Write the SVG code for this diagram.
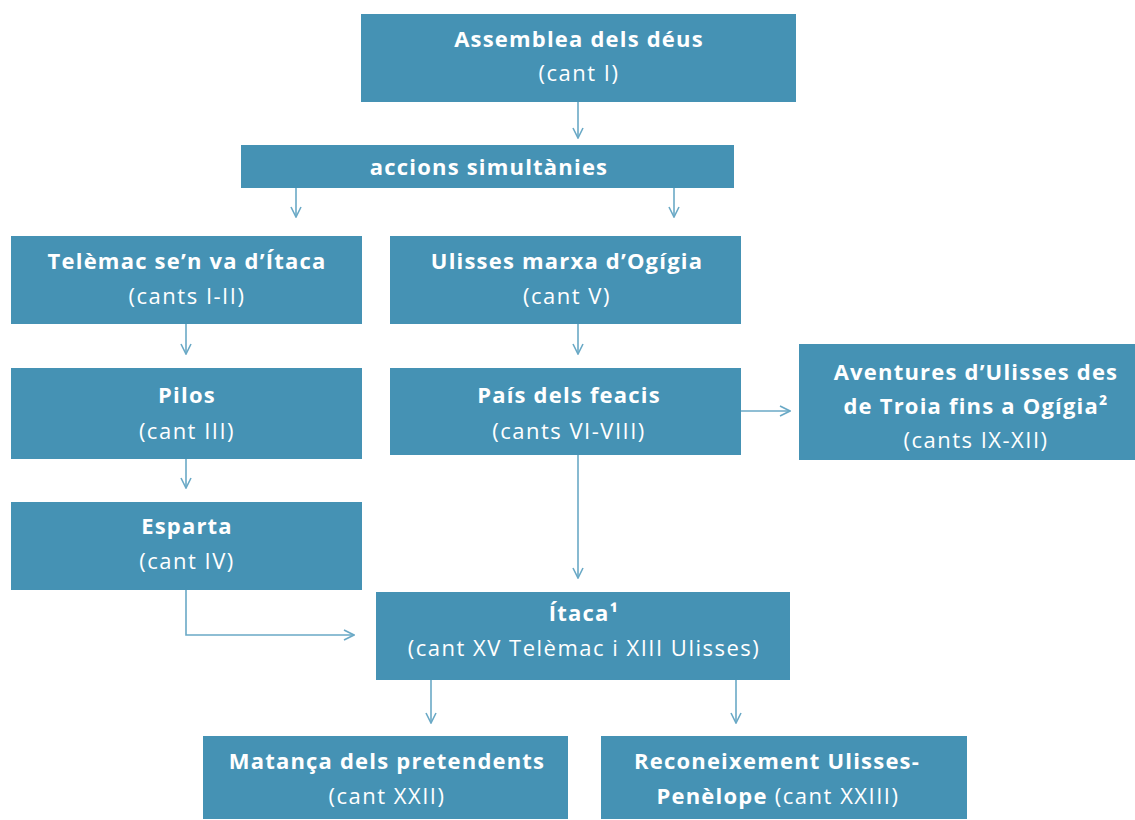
<svg xmlns="http://www.w3.org/2000/svg" width="1135" height="820" viewBox="0 0 1135 820">
<defs>
<style>
.box{fill:#4592b4}
.t{font-family:"Open Sans","Liberation Sans",sans-serif;font-size:22px;fill:#ffffff;text-anchor:middle}
.b{font-weight:700;letter-spacing:1.2px}
.r{font-weight:400;letter-spacing:1.5px}
.c{fill:none;stroke:#6aa9c6;stroke-width:1.6}
</style>
<marker id="ah" viewBox="0 0 12 12" refX="11" refY="6" markerWidth="12" markerHeight="12" markerUnits="userSpaceOnUse" orient="auto">
<path d="M1,1 L11,6 L1,11" fill="none" stroke="#6aa9c6" stroke-width="1.6"/>
</marker>
</defs>
<rect width="1135" height="820" fill="#ffffff"/>
<g id="connectors">
<line class="c" x1="578" y1="102" x2="578" y2="138" marker-end="url(#ah)"/>
<line class="c" x1="296" y1="188" x2="296" y2="217" marker-end="url(#ah)"/>
<line class="c" x1="674" y1="188" x2="674" y2="217" marker-end="url(#ah)"/>
<line class="c" x1="186" y1="324" x2="186" y2="354" marker-end="url(#ah)"/>
<line class="c" x1="578" y1="324" x2="578" y2="354" marker-end="url(#ah)"/>
<line class="c" x1="186" y1="459" x2="186" y2="488" marker-end="url(#ah)"/>
<line class="c" x1="741" y1="411" x2="790" y2="411" marker-end="url(#ah)"/>
<line class="c" x1="578" y1="455" x2="578" y2="578" marker-end="url(#ah)"/>
<polyline class="c" points="186,590 186,635 354,635" marker-end="url(#ah)"/>
<line class="c" x1="431" y1="680" x2="431" y2="723" marker-end="url(#ah)"/>
<line class="c" x1="736" y1="680" x2="736" y2="723" marker-end="url(#ah)"/>
</g>
<g id="n-assemblea">
<rect class="box" x="361" y="14" width="435" height="88"/>
<text class="t b" x="579" y="47">Assemblea dels déus</text>
<text class="t r" x="579" y="81">(cant I)</text>
</g>
<g id="n-accions">
<rect class="box" x="241" y="145" width="493" height="43"/>
<text class="t b" x="489" y="175">accions simultànies</text>
</g>
<g id="n-telemac">
<rect class="box" x="11" y="236" width="351" height="88"/>
<text class="t b" x="187" y="269">Telèmac se’n va d’Ítaca</text>
<text class="t r" x="187" y="304">(cants I-II)</text>
</g>
<g id="n-ulisses">
<rect class="box" x="390" y="236" width="351" height="88"/>
<text class="t b" x="567" y="269">Ulisses marxa d’Ogígia</text>
<text class="t r" x="567" y="304">(cant V)</text>
</g>
<g id="n-pilos">
<rect class="box" x="11" y="368" width="351" height="91"/>
<text class="t b" x="187" y="403">Pilos</text>
<text class="t r" x="187" y="439">(cant III)</text>
</g>
<g id="n-feacis">
<rect class="box" x="390" y="368" width="351" height="87"/>
<text class="t b" x="569" y="403">País dels feacis</text>
<text class="t r" x="569" y="439">(cants VI-VIII)</text>
</g>
<g id="n-aventures">
<rect class="box" x="799" y="344" width="336" height="116"/>
<text class="t b" x="976" y="380">Aventures d’Ulisses des</text>
<text class="t b" x="976" y="414">de Troia fins a Ogígia²</text>
<text class="t r" x="976" y="448">(cants IX-XII)</text>
</g>
<g id="n-esparta">
<rect class="box" x="11" y="502" width="351" height="88"/>
<text class="t b" x="187" y="534">Esparta</text>
<text class="t r" x="187" y="569">(cant IV)</text>
</g>
<g id="n-itaca">
<rect class="box" x="376" y="592" width="414" height="88"/>
<text class="t b" x="584" y="621">Ítaca¹</text>
<text class="t r" x="584" y="656">(cant XV Telèmac i XIII Ulisses)</text>
</g>
<g id="n-matanca">
<rect class="box" x="203" y="736" width="365" height="83"/>
<text class="t b" x="387" y="769">Matança dels pretendents</text>
<text class="t r" x="387" y="804">(cant XXII)</text>
</g>
<g id="n-reconeixement">
<rect class="box" x="601" y="736" width="366" height="83"/>
<text class="t b" x="777" y="769">Reconeixement Ulisses-</text>
<text class="t" x="778" y="804"><tspan class="b">Penèlope</tspan><tspan class="r"> (cant XXIII)</tspan></text>
</g>
</svg>
